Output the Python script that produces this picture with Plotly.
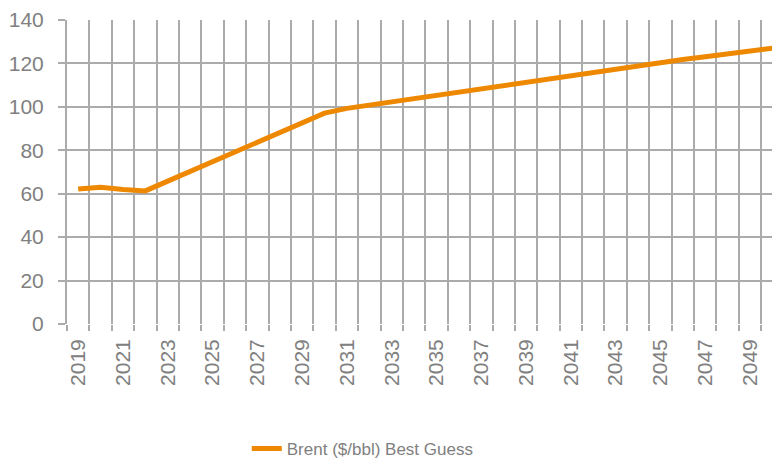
import plotly.graph_objects as go

years = list(range(2019, 2051))
brent = [62.2, 63.0, 61.9, 61.3, 65.8, 70.2, 74.7, 79.2, 83.7, 88.1, 92.6, 97.1,
         99.3, 100.8, 102.3, 103.8, 105.3, 106.8, 108.3, 109.8, 111.4, 113.1, 114.7,
         116.3, 117.8, 119.2, 120.4, 121.8, 123.1, 124.5, 125.8, 127.0]
label_years = list(range(2019, 2050, 2))
y_ticks = list(range(0, 141, 20))

grid = "#ABABAB"
txt = "#808080"

fig = go.Figure()
fig.add_trace(go.Scatter(
    x=years, y=brent, mode="lines", name="Brent ($/bbl) Best Guess",
    line=dict(color="#EE8800", width=5),
))

fig.update_layout(
    width=772, height=459,
    margin=dict(l=67, r=0, t=20, b=135, autoexpand=False),
    paper_bgcolor="white", plot_bgcolor="white",
    font=dict(family="Liberation Sans, Arial, sans-serif", color=txt),
    showlegend=True,
    legend=dict(orientation="h", x=0.255, xanchor="left", xref="paper",
                y=0.022, yanchor="middle", yref="container",
                font=dict(size=17, color=txt)),
    xaxis=dict(
        range=[2018.5, 2049.98],
        tickvals=label_years, ticktext=[str(v) for v in label_years],
        tickangle=-90, tickfont=dict(size=21, color=txt),
        showgrid=False, ticks="", showline=False, zeroline=False,
        ticklabelstandoff=10, automargin=False,
        minor=dict(tick0=2018.5, dtick=1, showgrid=True, gridcolor=grid, gridwidth=2,
                   ticks="outside", ticklen=6, tickcolor=grid, tickwidth=2),
    ),
    yaxis=dict(
        range=[0, 140], tickvals=y_ticks,
        tickfont=dict(size=21, color=txt), ticklabelstandoff=10,
        showgrid=True, gridcolor=grid, gridwidth=2, automargin=False,
        ticks="outside", ticklen=7, tickcolor=grid, tickwidth=2,
        zeroline=False, showline=True, linecolor=grid, linewidth=2,
    ),
)

fig.write_html("out.html")
